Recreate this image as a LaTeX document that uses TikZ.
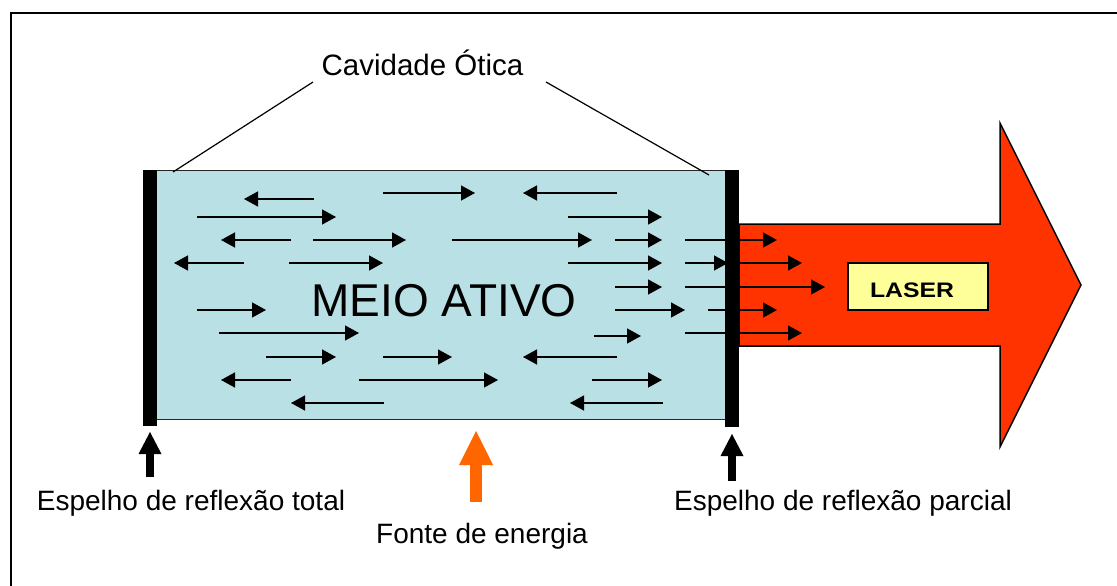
\documentclass[tikz,border=0pt]{standalone}
\usepackage{fontspec}
\setmainfont{Liberation Sans}
\usetikzlibrary{arrows.meta}
\definecolor{cavblue}{RGB}{185,224,228}
\definecolor{laserred}{RGB}{255,51,0}
\definecolor{laseryellow}{RGB}{255,255,153}
\definecolor{energyorange}{RGB}{255,102,0}
\begin{document}
\begin{tikzpicture}[x=1pt,y=-1pt,
  ray/.style={line width=1.3pt,-{Triangle[length=14pt,width=15pt]}},
  blockarrow/.style={line width=8pt,-{Triangle[length=22pt,width=23pt,line width=0pt]}},
  energyarrow/.style={line width=12pt,energyorange,-{Triangle[length=34pt,width=34pt,line width=0pt]}},
  lbl/.style={font=\fontsize{28}{30}\selectfont, anchor=base, inner sep=0pt},
  mirrorbar/.style={fill=black, inner sep=0pt, minimum width=14pt},
  leader/.style={line width=1.2pt}]
\useasboundingbox (0,0) rectangle (1117,586);
% outer frame (only left and top edges visible)
\draw[line width=1.3pt] (11,590) -- (11,13) -- (1125,13);
% laser output arrow
\draw[line width=1.5pt, fill=laserred, line join=miter]
  (739,224) -- (1000,224) -- (1000,123) -- (1081,285) -- (1000,447) -- (1000,346) -- (739,346) -- cycle;
% active medium
\node[draw=black!85, line width=1pt, fill=cavblue, minimum width=582pt, minimum height=249pt, inner sep=0pt] (cavity) at (441,294.5) {};
\node[font=\fontsize{46}{48}\selectfont, anchor=base, inner sep=0pt] (meio) at (444,316) {MEIO ATIVO};
% light rays
\foreach \xa/\xb/\yy in {
  314/244/199, 197/336/217, 291/221/240, 313/406/240, 244/174/263, 289/383/263,
  197/266/310, 219/359/333, 266/336/357, 383/452/357, 291/221/380, 359/498/380,
  384/291/403, 383/475/193, 617/523/193, 568/662/217, 452/592/240, 615/662/240,
  685/777/240, 568/662/263, 685/728/263, 700/802/263, 615/662/287, 685/825/287,
  615/685/310, 708/777/310, 594/641/336, 685/802/333, 617/523/357, 592/662/380,
  663/570/403}
  \draw[ray] (\xa,\yy) -- (\xb,\yy);
% LASER label
\node[draw=black, line width=1.2pt, fill=laseryellow, minimum width=140pt, minimum height=47pt, inner sep=0pt] (laserbox) at (918,286.5) {};
\node[font=\fontsize{21}{22}\selectfont\bfseries, anchor=base, inner sep=0pt] (lasertxt) at (912,297) {\scalebox{1.18}[1]{LASER}};
% mirrors
\node[mirrorbar, minimum height=256pt] (mleft) at (150,298) {};
\node[mirrorbar, minimum height=257pt] (mright) at (732,298.5) {};
% optical cavity label and leaders
\node[font=\fontsize{29.5}{31}\selectfont, anchor=base, inner sep=0pt] (cavlabel) at (422.5,76) {Cavidade Ótica};
\coordinate (cavLa) at (313,82);
\coordinate (cavLb) at (173,172);
\coordinate (cavRa) at (546,82);
\coordinate (cavRb) at (709,175);
\draw[leader] (cavLa) -- (cavLb);
\draw[leader] (cavRa) -- (cavRb);
% bottom labels and arrows
\node[lbl] (totlabel) at (191,510) {Espelho de reflexão total};
\node[lbl] (parlabel) at (843,510) {Espelho de reflexão parcial};
\node[lbl] (enlabel) at (482,543) {Fonte de energia};
\coordinate (totA) at (150,477);
\coordinate (totB) at (150,432);
\coordinate (parA) at (732,481);
\coordinate (parB) at (732,434);
\coordinate (enA) at (476,502);
\coordinate (enB) at (476,431);
\draw[blockarrow] (totA) -- (totB);
\draw[blockarrow] (parA) -- (parB);
\draw[energyarrow] (enA) -- (enB);
\end{tikzpicture}
\end{document}
